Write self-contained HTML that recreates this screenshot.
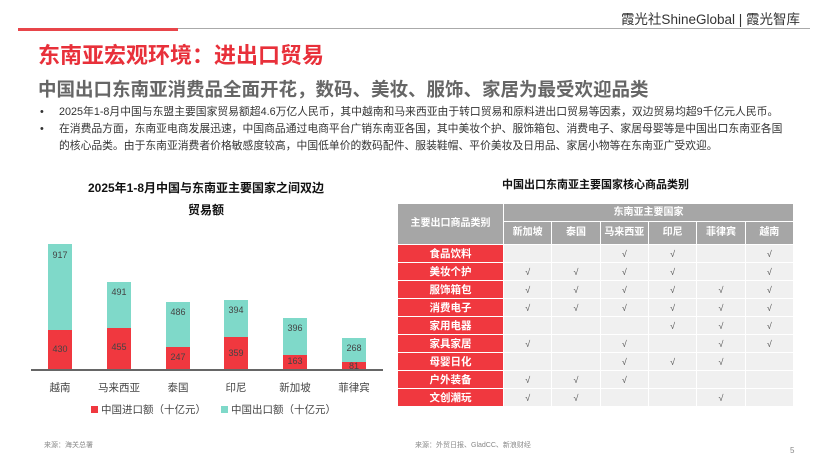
<!DOCTYPE html><html><head><meta charset="utf-8"><style>
*{margin:0;padding:0;box-sizing:border-box}
body{width:820px;height:462px;background:#fff;position:relative;overflow:hidden;font-family:"Liberation Sans","Noto Sans CJK SC",sans-serif;color:#333}
.a{position:absolute;white-space:nowrap}
.bar{position:absolute;width:24px}
.r{background:#f0383f}.g{background:#7fd9c9}
.v{position:absolute;width:24px;text-align:center;font-size:9px;color:#444}
.xl{position:absolute;width:60px;text-align:center;font-size:10.5px;color:#444;top:380px}
table{position:absolute;left:397px;top:203px;width:397px;border-collapse:separate;border-spacing:1.5px;font-size:10px;font-weight:bold;table-layout:fixed}
td{text-align:center;height:17px;line-height:12px;padding:0;background:#f0f0f0;color:#555;font-weight:normal;font-size:9px;overflow:hidden}
td.h{background:#a6a6a6;color:#fff;font-weight:bold;font-size:10px}
td.c{background:#f0383f;color:#fff;font-weight:bold;font-size:10.5px}
</style></head><body>
<div class="a" style="right:20px;top:8px;font-size:13.5px;color:#333">霞光社ShineGlobal | 霞光智库</div>
<div class="a" style="left:18px;top:28px;width:792px;height:1px;background:#aaa"></div>
<div class="a" style="left:18px;top:28px;width:160px;height:3px;background:#e8454a"></div>
<div class="a" style="left:38px;top:38px;font-size:22px;font-weight:bold;color:#e8303a">东南亚宏观环境：进出口贸易</div>
<div class="a" style="left:38px;top:76px;font-size:18.5px;font-weight:bold;color:#666">中国出口东南亚消费品全面开花，数码、美妆、服饰、家居为最受欢迎品类</div>
<div class="a" style="left:40px;top:104px;font-size:10.8px;line-height:17px;color:#333">•</div>
<div class="a" style="left:40px;top:121px;font-size:10.8px;line-height:17px;color:#333">•</div>
<div class="a" style="left:59px;top:104px;font-size:10.8px;line-height:17px;color:#333">2025年1-8月中国与东盟主要国家贸易额超4.6万亿人民币，其中越南和马来西亚由于转口贸易和原料进出口贸易等因素，双边贸易均超9千亿元人民币。<br>在消费品方面，东南亚电商发展迅速，中国商品通过电商平台广销东南亚各国，其中美妆个护、服饰箱包、消费电子、家居母婴等是中国出口东南亚各国<br>的核心品类。由于东南亚消费者价格敏感度较高，中国低单价的数码配件、服装鞋帽、平价美妆及日用品、家居小物等在东南亚广受欢迎。</div>
<div class="a" style="left:76px;top:177px;width:260px;text-align:center;font-size:12px;font-weight:bold;line-height:22px;color:#111;white-space:normal">2025年1-8月中国与东南亚主要国家之间双边<br>贸易额</div>
<div class="a" style="left:31px;top:369px;width:352px;height:1.5px;background:#666"></div>
<div class="bar g" style="left:48px;top:244px;height:86px"></div><div class="bar r" style="left:48px;top:330px;height:39px"></div>
<div class="bar g" style="left:107px;top:282px;height:46px"></div><div class="bar r" style="left:107px;top:328px;height:41px"></div>
<div class="bar g" style="left:166px;top:302px;height:45px"></div><div class="bar r" style="left:166px;top:347px;height:22px"></div>
<div class="bar g" style="left:224px;top:300px;height:37px"></div><div class="bar r" style="left:224px;top:337px;height:32px"></div>
<div class="bar g" style="left:283px;top:318px;height:37px"></div><div class="bar r" style="left:283px;top:355px;height:14px"></div>
<div class="bar g" style="left:342px;top:338px;height:24px"></div><div class="bar r" style="left:342px;top:362px;height:7px"></div>
<div class="v" style="left:48px;top:250px">917</div><div class="v" style="left:48px;top:344px">430</div>
<div class="v" style="left:107px;top:287px">491</div><div class="v" style="left:107px;top:342px">455</div>
<div class="v" style="left:166px;top:307px">486</div><div class="v" style="left:166px;top:352px">247</div>
<div class="v" style="left:224px;top:305px">394</div><div class="v" style="left:224px;top:348px">359</div>
<div class="v" style="left:283px;top:323px">396</div><div class="v" style="left:283px;top:356px">163</div>
<div class="v" style="left:342px;top:343px">268</div><div class="v" style="left:342px;top:361px">81</div>
<div class="xl" style="left:30px">越南</div><div class="xl" style="left:89px">马来西亚</div><div class="xl" style="left:148px">泰国</div><div class="xl" style="left:206px">印尼</div><div class="xl" style="left:265px">新加坡</div><div class="xl" style="left:324px">菲律宾</div>
<div class="a" style="left:91px;top:406px;width:7px;height:7px;background:#f0383f"></div>
<div class="a" style="left:101px;top:402px;font-size:10.5px;color:#444">中国进口额（十亿元）</div>
<div class="a" style="left:221px;top:406px;width:7px;height:7px;background:#7fd9c9"></div>
<div class="a" style="left:231px;top:402px;font-size:10.5px;color:#444">中国出口额（十亿元）</div>
<div class="a" style="left:44px;top:440px;font-size:7px;color:#888">来源：海关总署</div>
<div class="a" style="left:415px;top:440px;font-size:7px;color:#888">来源：外贸日报、GladCC、新浪财经</div>
<div class="a" style="left:790px;top:446px;font-size:8px;color:#888">5</div>
<div class="a" style="left:397px;top:176px;width:397px;text-align:center;font-size:11px;font-weight:bold;color:#111">中国出口东南亚主要国家核心商品类别</div>
<table>
<colgroup><col style="width:105px"><col><col><col><col><col><col></colgroup>
<tr><td class="h" rowspan="2" style="height:40px">主要出口商品类别</td><td class="h" colspan="6" style="height:17px">东南亚主要国家</td></tr>
<tr><td class="h" style="height:21px">新加坡</td><td class="h">泰国</td><td class="h">马来西亚</td><td class="h">印尼</td><td class="h">菲律宾</td><td class="h">越南</td></tr>
<tr><td class="c">食品饮料</td><td></td><td></td><td>√</td><td>√</td><td></td><td>√</td></tr>
<tr><td class="c">美妆个护</td><td>√</td><td>√</td><td>√</td><td>√</td><td></td><td>√</td></tr>
<tr><td class="c">服饰箱包</td><td>√</td><td>√</td><td>√</td><td>√</td><td>√</td><td>√</td></tr>
<tr><td class="c">消费电子</td><td>√</td><td>√</td><td>√</td><td>√</td><td>√</td><td>√</td></tr>
<tr><td class="c">家用电器</td><td></td><td></td><td></td><td>√</td><td>√</td><td>√</td></tr>
<tr><td class="c">家具家居</td><td>√</td><td></td><td>√</td><td></td><td>√</td><td>√</td></tr>
<tr><td class="c">母婴日化</td><td></td><td></td><td>√</td><td>√</td><td>√</td><td></td></tr>
<tr><td class="c">户外装备</td><td>√</td><td>√</td><td>√</td><td></td><td></td><td></td></tr>
<tr><td class="c">文创潮玩</td><td>√</td><td>√</td><td></td><td></td><td>√</td><td></td></tr>
</table>
</body></html>
